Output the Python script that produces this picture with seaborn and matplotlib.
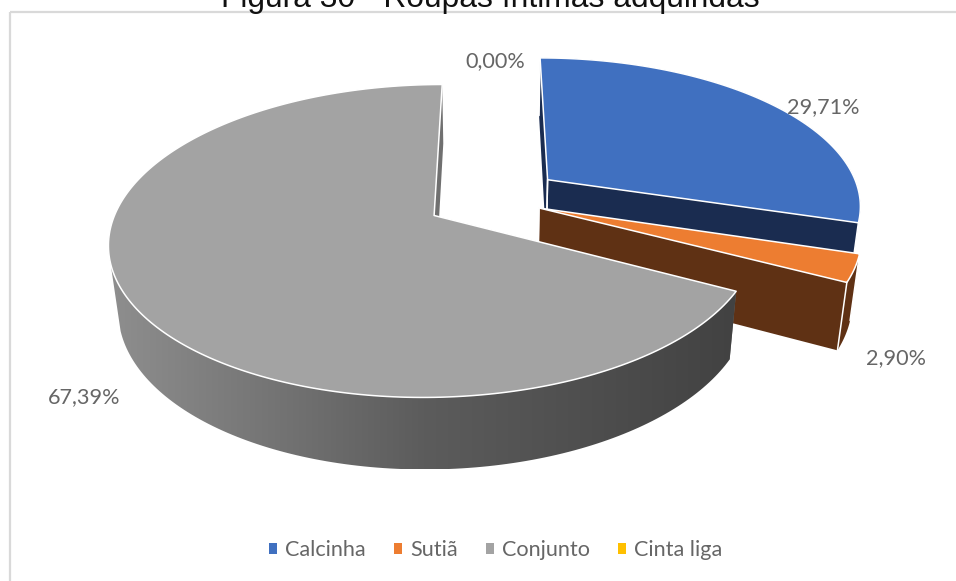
import numpy as np
import matplotlib
matplotlib.use("Agg")
import matplotlib.pyplot as plt
from matplotlib.patches import Patch, Polygon, Rectangle
import seaborn as sns

# Survey shares, in percent
categories = ["Calcinha", "Sutiã", "Conjunto", "Cinta liga"]
shares = [29.71, 2.90, 67.39, 0.00]
pull_out = [0.225, 0.16, 0.212, 0.0]

top_colours = ["#4070C0", "#ED7D31", "#A3A3A3", "#FFC000"]
side_colours = ["#1A2C50", "#5F3114", "#707070", "#7F6000"]
rim_gradient = ["#8E8E8E", "#5C5C5C", "#424242"]

title_text = "Figura 30 - Roupas íntimas adquiridas"
text_grey = "#666666"

# Pixel position of each percentage label
label_xy = [(823, 107), (896, 358), (84.5, 397), (495.5, 61)]

sns.set_theme(style="white")
plt.rcParams["font.family"] = ["Lato", "DejaVu Sans"]

fig = plt.figure(figsize=(9.56, 5.81), dpi=100, facecolor="white")
ax = fig.add_axes([0, 0, 1, 1])

# The pie supplies the angles and pulled-out centres of the slices
wedges, _ = ax.pie(shares, explode=pull_out, startangle=90, counterclock=False, radius=1)
slices = [(w.center, w.r, w.theta1, w.theta2) for w in wedges]
for w in wedges:
    w.remove()

ax.set_aspect("auto")
ax.set_xlim(0, 956)
ax.set_ylim(581, 0)
ax.axis("off")

# Perspective view of the pie plane; z=1 is the underside of the disc
CX, CY, AX_X, AX_Y, PERSP, DEPTH, SINK = 492, 199, 314, 147, 0.16, 66, 0.025


def project(x, y, z=0.0):
    w = 1 + PERSP * y + SINK * z
    return np.column_stack([CX + AX_X * x / w, CY - (AX_Y * y - DEPTH * z) / w])


def arc(centre, r, t1, t2, n=240):
    t = np.radians(np.linspace(t1, t2, n))
    # Only the part of the edge turned towards the viewer has a visible rim
    front = (np.sin(t) < -0.3) | (np.cos(t) > 0.01)
    return centre[0] + r * np.cos(t), centre[1] + r * np.sin(t), front


rim_cmap = sns.blend_palette(rim_gradient, 256, as_cmap=True)
ramp = np.linspace(0, 1, 256).reshape(1, -1)

z = 2
for i, (centre, r, t1, t2) in enumerate(slices):
    if shares[i] <= 0:
        continue
    xs, ys, front = arc(centre, r, t1, t2)
    top = project(xs, ys)
    under = project(xs, ys, 1)

    # Cut faces from the centre out to each arc end, farther one first
    ends = sorted((0, len(xs) - 1), key=lambda k: ys[k], reverse=True)
    seams = []
    for k in ends:
        px = np.array([centre[0], xs[k]])
        py = np.array([centre[1], ys[k]])
        upper = project(px, py)
        lower = project(px, py, 1)
        ax.add_patch(Polygon(np.vstack([upper, lower[::-1]]), closed=True,
                             facecolor=side_colours[i], edgecolor="none", zorder=z))
        seams.extend([(upper[0], lower[0]), (upper[1], lower[1])])
        z += 1

    # Outer rim of the slice
    rim = np.vstack([top[front], under[front][::-1]])
    if categories[i] == "Conjunto":
        holder = Polygon(rim, closed=True, facecolor="none", edgecolor="none")
        ax.add_patch(holder)
        img = ax.imshow(ramp, cmap=rim_cmap, aspect="auto", zorder=z,
                        extent=(rim[:, 0].min(), rim[:, 0].max(), rim[:, 1].max(), rim[:, 1].min()))
        img.set_clip_path(holder)
    else:
        ax.add_patch(Polygon(rim, closed=True, facecolor=side_colours[i], edgecolor="none", zorder=z))
        # Thin light seams where the dark faces meet
        z += 1
        for a, b in seams:
            ax.plot([a[0], b[0]], [a[1], b[1]], color="white", lw=1.1, zorder=z)
    z += 1

    # Top face
    cap = np.vstack([project(np.array([centre[0]]), np.array([centre[1]])), top])
    ax.add_patch(Polygon(cap, closed=True, facecolor=top_colours[i], edgecolor="white",
                         linewidth=1.1, joinstyle="round", zorder=z))
    z += 1

ax.set_xlim(0, 956)
ax.set_ylim(581, 0)

# Chart frame, open at the right and bottom where the image ends
ax.add_patch(Rectangle((10, 12), 960, 590, facecolor="none", edgecolor="#D9D9D9",
                       linewidth=1.6, zorder=1))

ax.text(490.5, 7, title_text, ha="center", va="baseline", fontsize=22.9,
        family=["Liberation Sans"], color="#111111", zorder=30)

for value, (lx, ly) in zip(shares, label_xy):
    ax.text(lx, ly, f"{value:.2f}%".replace(".", ","), ha="center", va="center",
            fontsize=15.6, color=text_grey, zorder=30)

handles = [Patch(facecolor=c, edgecolor="none") for c in top_colours]
leg = fig.legend(handles, categories, loc="center", bbox_to_anchor=(495.5 / 956, 1 - 550.5 / 581),
                 ncol=4, frameon=False, fontsize=15.6, labelcolor=text_grey,
                 handlelength=0.38, handleheight=0.38, handletextpad=0.37,
                 columnspacing=1.3, borderpad=0)

fig.savefig("out.png", dpi=100)
